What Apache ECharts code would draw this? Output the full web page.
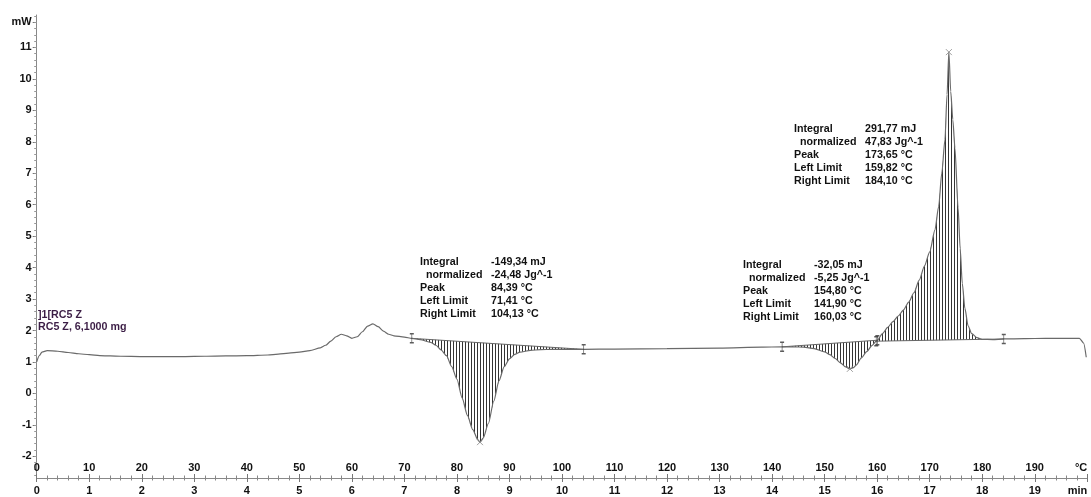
<!DOCTYPE html>
<html><head><meta charset="utf-8">
<script src="https://cdn.jsdelivr.net/npm/echarts@6/dist/echarts.min.js"></script>
<style>html,body{margin:0;padding:0;background:#fff}#c{width:1091px;height:497px}</style>
</head><body><div id="c"></div>
<script>
// ---- data ----
const temperatureC = [0,0.5,1,2,4,6,8,10,12,14,16,20,24,28,32,36,40,44,46,48,50,52,54,55,56,57,58,59,60,61,62,63,64,65,66,67,68,70,71.41,73,75,76,77,78,79,80,81,82,83,84,84.39,85,86,87,88,89,90,91,92,94,96,98,100,102,104.13,110,120,130,138,141.9,144,146,148,150,151,152,153,154,154.8,155.5,156,157,158,159,159.82,160.03,161,162,163,164,165,166,167,168,169,170,171,171.7,172.3,172.9,173.3,173.65,174.0,174.4,174.8,175.4,175.8,176.2,176.7,177.3,178,179,180,182,184.1,188,192,196,198.5,199.3,199.8];
const heatFlowMW = [1.00,1.20,1.31,1.36,1.34,1.30,1.26,1.23,1.20,1.19,1.18,1.17,1.17,1.17,1.18,1.19,1.20,1.22,1.25,1.28,1.31,1.36,1.45,1.53,1.66,1.80,1.88,1.83,1.75,1.80,1.96,2.14,2.21,2.12,1.98,1.88,1.83,1.79,1.75,1.71,1.62,1.53,1.38,1.20,0.85,0.45,-0.15,-0.70,-1.15,-1.48,-1.55,-1.42,-0.95,-0.25,0.40,0.85,1.10,1.24,1.31,1.37,1.39,1.40,1.40,1.40,1.40,1.41,1.42,1.44,1.47,1.48,1.48,1.47,1.42,1.32,1.23,1.11,0.97,0.84,0.78,0.82,0.90,1.13,1.33,1.52,1.66,1.69,1.90,2.10,2.28,2.46,2.65,2.90,3.20,3.60,4.05,4.50,5.20,5.94,7.00,8.06,9.50,10.85,9.60,8.70,7.80,5.90,4.60,3.50,2.70,2.15,1.90,1.77,1.72,1.71,1.73,1.74,1.75,1.75,1.75,1.60,1.15];
const integrationLimits = [[71.41,104.13],[141.90,160.03],[159.82,184.10]];
const peakTemps = [84.39,154.80,173.65];
const annotationLabels = ['Integral','normalized','Peak','Left Limit','Right Limit'];
const annotationValues = [
  ['-149,34 mJ','-24,48 Jg^-1','84,39 °C','71,41 °C','104,13 °C'],
  ['-32,05 mJ','-5,25 Jg^-1','154,80 °C','141,90 °C','160,03 °C'],
  ['291,77 mJ','47,83 Jg^-1','173,65 °C','159,82 °C','184,10 °C']
];
const sampleLabel = [']1[RC5 Z','RC5 Z, 6,1000 mg'];
const yTickValues = [-2,-1,0,1,2,3,4,5,6,7,8,9,10,11];
const yUnit = 'mW';
const xUnitTemp = '°C';
const xUnitTime = 'min';

// ---- helpers ----
function interp(t){
  for(let i=1;i<temperatureC.length;i++){
    if(t<=temperatureC[i]){
      const t0=temperatureC[i-1],t1=temperatureC[i];
      const f=(t-t0)/(t1-t0);
      return heatFlowMW[i-1]+f*(heatFlowMW[i]-heatFlowMW[i-1]);
    }
  }
  return heatFlowMW[heatFlowMW.length-1];
}
const curve = temperatureC.map((t,i)=>[t,heatFlowMW[i]]);
const limitPts = [];
integrationLimits.forEach(([a,b])=>{limitPts.push([a,interp(a)]);limitPts.push([b,interp(b)]);});
const peakPts = peakTemps.map(t=>[t,interp(t)]);

const pc = document.createElement('canvas');
pc.width=3; pc.height=4;
const pctx = pc.getContext('2d');
pctx.fillStyle='rgba(30,30,30,0.9)';
pctx.fillRect(0,0,1,4);
const hatch = {image: pc, repeat:'repeat'};

const minorY = [];
for(let k=-13;k<=60;k++){ minorY.push(Math.round(k*2)/10); }

const FONT = '"Liberation Sans", Arial, sans-serif';
const chart = echarts.init(document.getElementById('c'), null, {renderer:'canvas'});

const graphics = [];
const blocks = [[420,262],[743,265],[794,129]];
const LH = 13;
const AFONT = 'bold 10.7px '+FONT;
blocks.forEach(([bx,by],bi)=>{
  annotationLabels.forEach((lab,li)=>{
    graphics.push({type:'text', x: bx + (li===1?6:0), y: by + li*LH, style:{text:lab, font:AFONT, fill:'#111', textVerticalAlign:'middle'}});
    graphics.push({type:'text', x: bx + 71, y: by + li*LH, style:{text:annotationValues[bi][li], font:AFONT, fill:'#111', textVerticalAlign:'middle'}});
  });
});
sampleLabel.forEach((s,i)=>{
  graphics.push({type:'text', x:38, y:315+i*12.5, style:{text:s, font:AFONT, fill:'#3b1d45', textVerticalAlign:'middle'}});
});

const labelStyle = {fontFamily:FONT, fontWeight:'bold', fontSize:11, color:'#111'};

chart.setOption({
  animation:false,
  backgroundColor:'#fff',
  grid:{left:36.7, right:3.7, top:15, bottom:19, containLabel:false},
  xAxis:[
    {type:'value', min:0, max:200, interval:10, position:'bottom',
     axisLine:{show:true, onZero:false, lineStyle:{color:'#888', width:1}},
     axisTick:{show:true, inside:true, length:4, lineStyle:{color:'#777'}},
     minorTick:{show:true, splitNumber:5, length:2.5, lineStyle:{color:'#888'}},
     splitLine:{show:false},
     axisLabel:Object.assign({inside:true, margin:4.5, alignMaxLabel:'right', formatter:v=>v===200?xUnitTemp:String(v)}, labelStyle)},
    {type:'value', min:0, max:20, interval:1, position:'bottom',
     axisLine:{show:true, onZero:false, lineStyle:{color:'#888', width:1}},
     axisTick:{show:true, inside:false, length:4, lineStyle:{color:'#777'}},
     minorTick:{show:true, splitNumber:5, length:2.5, lineStyle:{color:'#888'}},
     splitLine:{show:false},
     axisLabel:Object.assign({margin:7, alignMaxLabel:'right', formatter:v=>v===20?xUnitTime:String(v)}, labelStyle)}
  ],
  yAxis:[
    {type:'value', min:-2.69, max:12.03,
     axisLine:{show:true, onZero:false, lineStyle:{color:'#888'}},
     axisTick:{show:true, length:4, customValues:yTickValues.concat([11.8]), lineStyle:{color:'#777'}},
     splitLine:{show:false},
     axisLabel:Object.assign({margin:5, customValues:yTickValues.concat([11.8]), formatter:v=>v>11.5?yUnit:String(v)}, labelStyle)},
    {type:'value', min:-2.69, max:12.03, position:'left',
     axisLine:{show:false, onZero:false},
     axisTick:{show:true, length:2.5, customValues:minorY, lineStyle:{color:'#999'}},
     axisLabel:{show:false, customValues:minorY},
     splitLine:{show:false}}
  ],
  series:[
    {type:'custom', xAxisIndex:0, yAxisIndex:0, data:integrationLimits, encode:{x:[0,1]},
     renderItem:function(params, api){
       const a=api.value(0), b=api.value(1);
       const pts=[api.coord([a,interp(a)])];
       for(let i=0;i<temperatureC.length;i++){ if(temperatureC[i]>a && temperatureC[i]<b) pts.push(api.coord([temperatureC[i],heatFlowMW[i]])); }
       const pb=api.coord([b,interp(b)]);
       pts.push(pb);
       return {type:'group', children:[
         {type:'polygon', shape:{points:pts}, style:{fill:hatch, stroke:null}},
         {type:'line', shape:{x1:pts[0][0],y1:pts[0][1],x2:pb[0],y2:pb[1]}, style:{stroke:'#666', lineWidth:1}}
       ]};
     }, z:1},
    {type:'line', xAxisIndex:0, yAxisIndex:0, data:curve, showSymbol:false, smooth:0.25, smoothMonotone:'x',
     lineStyle:{color:'#6a6a6a', width:1.2}, z:3},
    {type:'scatter', xAxisIndex:0, yAxisIndex:0, data:limitPts, symbol:'path://M0,0L4,0M2,0L2,10M0,10L4,10', symbolSize:[4,9],
     itemStyle:{color:'none', borderColor:'#333', borderWidth:1}, z:4},
    {type:'scatter', xAxisIndex:0, yAxisIndex:0, data:peakPts, symbol:'path://M0,0L10,10M10,0L0,10', symbolSize:6,
     itemStyle:{color:'none', borderColor:'#888', borderWidth:1}, z:4}
  ],
  graphic:graphics
});
</script></body></html>
